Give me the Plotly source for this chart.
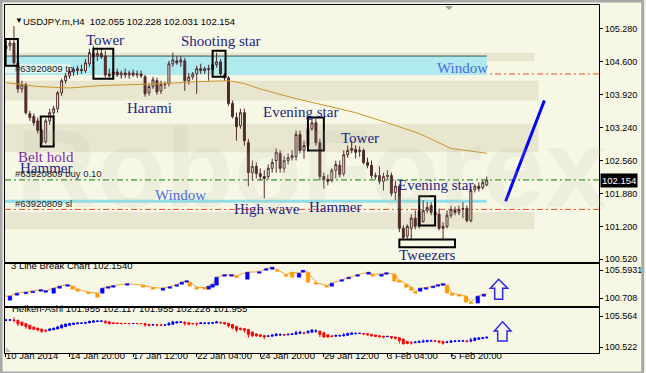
import plotly.graph_objects as go

# ---------------- data ----------------
bar_index = list(range(122))
opens = [104.87,104.93,104.99,104.58,104.04,104.13,103.53,103.47,103.38,103.18,
         102.95,103.38,103.55,103.63,103.96,104.21,104.31,104.39,104.42,104.44,
         104.42,104.56,104.77,104.72,104.77,104.72,104.35,104.33,104.39,104.33,
         104.37,104.33,104.37,104.33,104.35,104.29,103.96,104.09,104.21,104.00,
         104.13,104.15,104.56,104.62,104.60,104.62,104.21,104.29,104.35,104.46,
         104.42,104.46,104.44,104.54,104.60,104.33,104.27,103.74,103.45,103.28,
         103.55,102.93,102.31,102.44,102.29,102.23,102.23,102.40,102.56,102.71,
         102.40,102.56,102.62,102.64,103.10,102.77,102.87,103.22,103.34,102.93,
         102.23,102.17,102.15,102.36,102.46,102.29,102.68,102.77,102.79,102.75,
         102.77,102.52,102.46,102.25,102.25,102.13,102.23,102.25,101.90,102.03,
         101.16,101.00,101.16,101.37,101.20,101.30,101.53,101.63,101.49,101.45,
         101.16,101.20,101.43,101.53,101.49,101.55,101.57,101.32,101.96,102.03,
         102.00,102.055]
highs = [105.03,105.07,105.34,104.62,104.21,104.17,103.59,103.53,103.45,103.22,
         103.43,103.63,103.69,104.00,104.25,104.37,104.46,104.50,104.52,104.54,
         104.66,104.87,104.93,104.89,104.87,104.83,104.46,104.48,104.46,104.42,
         104.46,104.42,104.44,104.42,104.42,104.33,104.15,104.29,104.27,104.21,
         104.19,104.62,104.79,104.72,104.72,104.68,104.37,104.39,104.52,104.56,
         104.50,104.54,104.58,104.79,104.66,104.37,104.31,103.80,103.55,103.63,
         103.63,103.01,102.56,102.52,102.40,102.36,102.48,102.60,102.81,102.77,
         102.66,102.71,102.77,103.18,103.18,102.97,103.28,103.43,103.43,103.01,
         102.31,102.27,102.40,102.56,102.56,102.77,102.87,102.97,102.87,102.85,
         102.81,102.62,102.56,102.31,102.44,102.31,102.36,102.31,102.15,102.07,
         101.22,101.24,101.45,101.53,101.63,101.74,101.70,101.70,101.63,101.57,
         101.28,101.53,101.63,101.61,101.63,101.70,101.63,102.03,102.07,102.11,
         102.15,102.228]
lows = [104.79,104.83,104.54,103.96,103.96,103.51,103.38,103.28,103.12,102.85,
        102.91,103.30,103.47,103.55,103.90,104.15,104.25,104.31,104.33,104.35,
        104.37,104.50,104.66,104.62,104.66,104.25,104.23,104.25,104.29,104.25,
        104.27,104.25,104.29,104.27,104.27,103.88,103.90,104.04,103.92,103.94,
        104.04,104.09,104.50,104.54,104.50,104.00,104.13,104.23,103.94,104.35,
        104.35,104.21,104.37,104.48,104.31,104.21,103.69,103.43,102.97,103.22,
        102.87,102.03,102.15,102.19,102.15,101.78,102.17,102.31,102.31,102.31,
        102.31,102.48,102.56,102.56,102.71,102.60,102.83,103.18,102.87,102.15,
        101.98,102.05,102.11,102.19,102.21,102.23,102.62,102.71,102.60,102.64,
        102.48,102.40,102.19,102.17,102.07,101.94,102.17,101.82,101.74,101.08,
        100.91,100.95,100.91,101.14,101.16,101.28,101.47,101.43,101.37,101.12,
        100.91,101.16,101.37,101.43,101.43,101.37,101.28,101.28,101.90,101.92,
        101.96,102.031]
closes = [104.93,104.99,104.58,104.04,104.13,103.55,103.45,103.34,103.18,102.93,
          103.38,103.55,103.63,103.96,104.21,104.31,104.39,104.44,104.46,104.42,
          104.58,104.79,104.72,104.77,104.70,104.33,104.31,104.39,104.33,104.37,
          104.33,104.37,104.33,104.35,104.31,103.94,104.09,104.23,103.98,104.13,
          104.15,104.56,104.64,104.58,104.64,104.21,104.29,104.35,104.46,104.42,
          104.46,104.44,104.54,104.60,104.35,104.27,103.74,103.47,103.26,103.55,
          102.97,102.31,102.44,102.29,102.23,102.19,102.40,102.52,102.73,102.40,
          102.56,102.62,102.66,103.10,102.77,102.87,103.22,103.34,102.93,102.23,
          102.17,102.13,102.36,102.48,102.27,102.68,102.77,102.81,102.73,102.77,
          102.52,102.46,102.25,102.23,102.13,102.23,102.25,101.88,102.03,101.16,
          100.97,101.20,101.37,101.20,101.51,101.53,101.59,101.49,101.43,101.16,
          101.20,101.43,101.55,101.49,101.55,101.57,101.32,101.94,102.03,101.98,
          102.11,102.154]

ma_x = [0, 8, 16, 24, 32, 40, 48, 56, 60, 64, 72, 80, 88, 96, 104, 112, 121]
ma_val = [104.17, 104.09, 104.06, 104.11, 104.13, 104.15, 104.19, 104.21, 104.15,
          104.04, 103.86, 103.71, 103.55, 103.34, 103.12, 102.81, 102.71]

# 3 Line Break bricks (indicator units)
lb_x = [1.0,2.75,5,6.75,8.75,10,12,13.5,15.5,16.75,18,20.75,23,24.25,25.75,27,30.5,
        34.5,37,39.5,41.25,43,44.25,45.5,46.25,48,50,51,52,53,55,56.75,58,60.75,
        63.75,65.5,67,68.25,70.5,72,73.75,74.75,76,78,80.75,82,84.5,86.25,88.5,
        91.25,92.25,94.5,95.75,97.75,99,100.75,102,103,104.25,105.75,107.5,108.75,
        110,111,112.25,114,115.75,117,118.75,120.25]
lb_lo = [100.36,101.23,101.49,101.67,101.93,101.75,101.58,102.45,102.80,102.28,101.93,
         101.49,100.88,101.58,102.45,102.63,102.98,102.63,102.28,102.10,102.45,102.80,
         103.15,103.50,102.80,102.28,102.28,102.28,102.63,102.98,104.55,104.55,104.28,
         104.02,105.07,105.59,105.77,105.42,104.55,104.37,104.37,105.24,103.50,103.15,
         102.63,102.80,103.67,104.11,104.55,104.89,104.55,104.55,104.89,103.67,103.50,
         102.63,102.10,101.58,101.93,102.28,102.54,102.80,102.98,101.58,101.23,101.06,
         100.01,99.75,99.84,101.06]
lb_hi = [101.06,101.58,101.75,101.93,102.19,102.01,102.45,102.80,103.06,102.80,102.28,
         101.75,101.58,102.45,102.71,102.89,103.24,102.98,102.54,102.45,102.71,103.06,
         103.50,103.76,103.50,102.63,102.54,102.80,103.15,104.37,104.81,104.81,104.63,
         105.24,105.33,105.86,106.12,105.68,104.81,105.24,105.07,105.59,105.24,103.41,
         102.89,103.32,103.94,104.37,104.81,105.24,104.89,104.89,105.16,104.89,103.85,
         103.15,102.63,101.84,102.45,102.54,102.80,103.06,103.24,102.98,101.58,101.32,
         101.06,100.01,101.06,101.41]
lb_dir = ["u","u","u","u","u","u","u","u","u","d","d","d","d","u","u","u","u",
          "d","d","u","u","u","u","u","d","d","d","u","u","u","u","u","d","u",
          "u","u","u","d","d","d","u","u","d","d","d","u","u","u","u","u","d",
          "u","u","d","d","d","d","d","u","u","u","u","u","d","d","d","d","d",
          "u","u"]

tick_idx = [0, 16, 32, 48, 64, 80, 96, 112]
tick_text = ["10 Jan 2014", "14 Jan 20:00", "17 Jan 12:00", "22 Jan 04:00",
             "24 Jan 20:00", "29 Jan 12:00", "3 Feb 04:00", "5 Feb 20:00"]
price_ticks = [105.280, 104.600, 103.920, 103.240, 102.560, 101.880, 101.200, 100.520]

# ---------------- derived Heiken-Ashi ----------------
ha_o, ha_h, ha_l, ha_c = [], [], [], []
for k in range(len(opens)):
    c = (opens[k] + highs[k] + lows[k] + closes[k]) / 4
    o = (opens[k] + closes[k]) / 2 if k == 0 else (ha_o[-1] + ha_c[-1]) / 2
    ha_o.append(o); ha_c.append(c)
    ha_h.append(max(highs[k], o, c)); ha_l.append(min(lows[k], o, c))

# ---------------- style ----------------
BG = "#F7F7E6"
BAND = "#E8E6CE"
CANDLE = "#4E2A2A"
UI = "Liberation Sans"
SERIF = "Liberation Serif"
NAVY = "#1E1E82"

W, H = 646, 373
ML, MR, MT, MB = 4, 44, 4, 20
PH = H - MT - MB
def py(pix):
    return (H - MB - pix) / PH
def px(pix):
    return (pix - ML) / (W - ML - MR)

fig = go.Figure()

fig.add_trace(go.Candlestick(
    x=bar_index, open=opens, high=highs, low=lows, close=closes,
    xaxis="x", yaxis="y",
    increasing=dict(line=dict(color=CANDLE, width=1), fillcolor=BG),
    decreasing=dict(line=dict(color=CANDLE, width=1), fillcolor=CANDLE),
    whiskerwidth=0, hoverinfo="skip", showlegend=False))

fig.add_trace(go.Scatter(x=ma_x, y=ma_val, mode="lines", xaxis="x", yaxis="y",
                         line=dict(color="#C8962A", width=1), showlegend=False,
                         hoverinfo="skip"))

# 3 line break panel: white area, then bricks drawn on top
fig.add_trace(go.Scatter(x=[-0.25] + lb_x + [121.0], y=[lb_hi[0]] + lb_hi + [lb_hi[-1]],
                         mode="lines", fill="tozeroy", fillcolor="#FFFFFF",
                         line=dict(color="#F5A030", width=1), xaxis="x2", yaxis="y2",
                         showlegend=False, hoverinfo="skip"))
for d, col in (("u", "#0000FF"), ("d", "#FF9900")):
    bx, byv = [], []
    for x, lo, hi, dd in zip(lb_x, lb_lo, lb_hi, lb_dir):
        if dd != d:
            continue
        bx += [x - 0.45, x + 0.45, x + 0.45, x - 0.45, x - 0.45, None]
        byv += [lo, lo, hi, hi, lo, None]
    fig.add_trace(go.Scatter(x=bx, y=byv, mode="lines", fill="toself", fillcolor=col,
                             line=dict(color=col, width=0.5), xaxis="x2", yaxis="y2",
                             showlegend=False, hoverinfo="skip"))

# Heiken-Ashi panel
fig.add_trace(go.Candlestick(
    x=bar_index, open=ha_o, high=ha_h, low=ha_l, close=ha_c,
    xaxis="x3", yaxis="y3",
    increasing=dict(line=dict(color="#0000FF", width=1), fillcolor="#0000FF"),
    decreasing=dict(line=dict(color="#FF0000", width=1), fillcolor="#FF0000"),
    whiskerwidth=0, hoverinfo="skip", showlegend=False))

xr = [-0.25, 149.25]
axis_common = dict(showline=True, mirror=True, linecolor="black", linewidth=1,
                   showgrid=False, zeroline=False)

fig.update_layout(
    width=W, height=H, margin=dict(l=ML, r=MR, t=MT, b=MB),
    paper_bgcolor=BG, plot_bgcolor=BG, showlegend=False,
    font=dict(family=UI, size=9, color="black"),
    xaxis=dict(domain=[0, 1], anchor="y", range=xr, showticklabels=False,
               rangeslider=dict(visible=False), **axis_common),
    xaxis2=dict(domain=[0, 1], anchor="y2", range=xr, matches="x",
                showticklabels=False, **axis_common),
    xaxis3=dict(domain=[0, 1], anchor="y3", range=xr, matches="x",
                showticklabels=False, ticks="outside", ticklen=3, tickcolor="black",
                tickvals=tick_idx, rangeslider=dict(visible=False), **axis_common),
    yaxis=dict(domain=[py(262), 1], range=[100.458, 105.775], side="right",
               tickvals=price_ticks, ticktext=[f"{v:.3f}" for v in price_ticks],
               ticks="outside", ticklen=3, tickcolor="black",
               tickfont=dict(family=UI, size=9), **axis_common),
    yaxis2=dict(domain=[py(306), py(264)], range=[99.312, 106.64], side="right",
                tickvals=[105.5931, 100.708], ticktext=["105.5931", "100.708"],
                ticks="outside", ticklen=3, tickcolor="black",
                tickfont=dict(family=UI, size=9), **axis_common),
    yaxis3=dict(domain=[0, py(308)], range=[99.546, 106.865], side="right",
                tickvals=[105.564, 100.522], ticktext=["105.564", "100.522"],
                ticks="outside", ticklen=3, tickcolor="black",
                tickfont=dict(family=UI, size=9), **axis_common),
)

shapes = []
# watermark bands
for (y0, y1, x1) in [(104.79, 104.61, 133), (104.21, 103.80, 134),
                     (103.32, 102.73, 134), (101.49, 101.14, 133)]:
    shapes.append(dict(type="rect", xref="x", yref="y", x0=-0.25, x1=x1, y0=y0, y1=y1,
                       fillcolor=BAND, line=dict(width=0), layer="below"))
# order lines
dash = "6px,3px,2px,3px"
shapes.append(dict(type="line", xref="x", yref="y", x0=-0.25, x1=149.25, y0=104.35, y1=104.35,
                   line=dict(color="#F05020", width=1, dash=dash), layer="below"))
shapes.append(dict(type="line", xref="x", yref="y", x0=-0.25, x1=149.25, y0=101.55, y1=101.55,
                   line=dict(color="#F05020", width=1, dash=dash), layer="below"))
shapes.append(dict(type="line", xref="x", yref="y", x0=-0.25, x1=149.25, y0=102.16, y1=102.16,
                   line=dict(color="#008000", width=1, dash=dash), layer="below"))
# windows (cyan zones)
shapes.append(dict(type="rect", xref="x", yref="y", x0=-0.25, x1=121, y0=104.33, y1=104.72,
                   fillcolor="#AEEAEE", line=dict(width=0), layer="below"))
shapes.append(dict(type="line", xref="x", yref="y", x0=-0.25, x1=121, y0=104.72, y1=104.72,
                   line=dict(color="#3A5A5A", width=1), layer="below"))
shapes.append(dict(type="rect", xref="x", yref="y", x0=-0.25, x1=16.25, y0=104.37, y1=104.56,
                   fillcolor="#E2F6F0", line=dict(width=0), layer="below"))
shapes.append(dict(type="rect", xref="x", yref="y", x0=-0.25, x1=121, y0=101.69, y1=101.75,
                   fillcolor="#8EE0E8", line=dict(width=0), layer="below"))
# pattern boxes
for (a, b, lo, hi) in [(-0.1, 3, 104.52, 105.07), (22, 27, 104.25, 104.87),
                       (8.75, 12, 102.85, 103.47), (52, 55.25, 104.29, 104.83),
                       (76, 80, 102.77, 103.45), (104, 108, 101.22, 101.82),
                       (99, 113, 100.77, 100.93)]:
    shapes.append(dict(type="rect", xref="x", yref="y", x0=a, x1=b, y0=lo, y1=hi,
                       line=dict(color="black", width=2), layer="above"))
# blue trend line
shapes.append(dict(type="line", xref="x", yref="y", x0=125.75, y0=101.72, x1=135.5, y1=103.80,
                   line=dict(color="#0000FF", width=3)))
# up arrows
shapes.append(dict(type="path", xref="x2", yref="y2 domain",
                   path="M 123,0.167 L 125,0.167 L 125,0.429 L 126.25,0.429 L 124,0.643 L 121.9,0.429 L 123,0.429 Z",
                   line=dict(color="#2A2AE8", width=1.5), fillcolor="rgba(0,0,0,0)"))
shapes.append(dict(type="path", xref="x3", yref="y3 domain",
                   path="M 123.75,0.267 L 126.1,0.267 L 126.1,0.489 L 127.1,0.489 L 125,0.696 L 122.9,0.489 L 123.75,0.489 Z",
                   line=dict(color="#2A2AE8", width=1.5), fillcolor="rgba(0,0,0,0)"))
# chart shift marker and corner marker
shapes.append(dict(type="path", xref="x", yref="paper",
                   path=f"M 110.5,{py(5)} L 112.5,{py(5)} L 111.5,{py(9)} Z",
                   fillcolor="#A0A0A0", line=dict(width=0)))
shapes.append(dict(type="path", xref="paper", yref="paper",
                   path=f"M {px(5)},{py(347)} L {px(5)},{py(352)} L {px(10)},{py(352)} Z",
                   fillcolor="#C0C0C0", line=dict(width=0)))
# outer window frame
shapes.append(dict(type="rect", xref="paper", yref="paper", x0=px(0), x1=px(W), y0=py(H), y1=py(0),
                   line=dict(color="#A8A8A8", width=3), fillcolor="rgba(0,0,0,0)"))
fig.update_layout(shapes=shapes)

ann = []
ann.append(dict(text="RoboForex", xref="paper", yref="paper", x=px(313), y=py(103),
                showarrow=False, font=dict(family=UI, size=112, color="rgba(190,190,170,0.15)", weight="bold")))
def lab(t, i, p, color=NAVY, size=15, fam=SERIF, anchor="center"):
    ann.append(dict(text=t, xref="x", yref="y", x=i, y=p, showarrow=False, xanchor=anchor,
                    font=dict(family=fam, size=size, color=color)))
lab("Tower", 25, 105.05)
lab("Shooting star", 54, 105.03)
lab("Harami", 36, 103.65)
lab("Evening star", 74, 103.57)
lab("Belt hold", 10, 102.64, color="#7A2AA8")
lab("Hammer", 10, 102.40)
lab("Tower", 89, 103.03)
lab("Evening star", 108, 102.05)
lab("High wave", 65.75, 101.55)
lab("Hammer", 82.75, 101.61)
lab("Tweezers", 106, 100.60)
lab("Window", 115, 104.48, color="#4A6CE0")
lab("Window", 44, 101.84, color="#4A6CE0")
lab("#63920809 tp", 1.75, 104.46, color="#202020", size=9.5, fam=UI, anchor="left")
lab("#63920809 buy 0.10", 1.75, 102.29, color="#202020", size=9.5, fam=UI, anchor="left")
lab("#63920809 sl", 1.75, 101.68, color="#202020", size=9.5, fam=UI, anchor="left")

ann.append(dict(text="▼", xref="paper", yref="paper", x=px(12), y=py(13), showarrow=False,
                font=dict(size=8, color="black")))
ann.append(dict(text="USDJPY.m,H4  102.055 102.228 102.031 102.154", xref="paper", yref="paper",
                x=px(20), y=py(13), xanchor="left", showarrow=False, font=dict(size=9.5)))
ann.append(dict(text="3 Line Break Chart 102.1540", xref="paper", yref="paper",
                x=px(8), y=py(273), xanchor="left", showarrow=False, font=dict(size=9.5)))
ann.append(dict(text="Heiken-Ashi 101.955 102.117 101.955 102.228 101.955", xref="paper",
                yref="paper", x=px(9), y=py(316), xanchor="left", showarrow=False,
                font=dict(size=9.5)))
ann.append(dict(text="102.154", xref="paper", yref="y", x=1.0, y=102.154, xanchor="left",
                xshift=1, showarrow=False, bgcolor="black", borderpad=1,
                font=dict(size=9.5, color="white")))
for i, t in zip(tick_idx, tick_text):
    ann.append(dict(text=t, xref="x", yref="paper", x=i, y=py(363), xanchor="left",
                    showarrow=False, xshift=-2, font=dict(size=9.5)))
fig.update_layout(annotations=ann)

fig.write_html("out.html", config={"displayModeBar": False},
               post_script="document.body.style.margin='0';document.body.style.overflow='hidden';")
